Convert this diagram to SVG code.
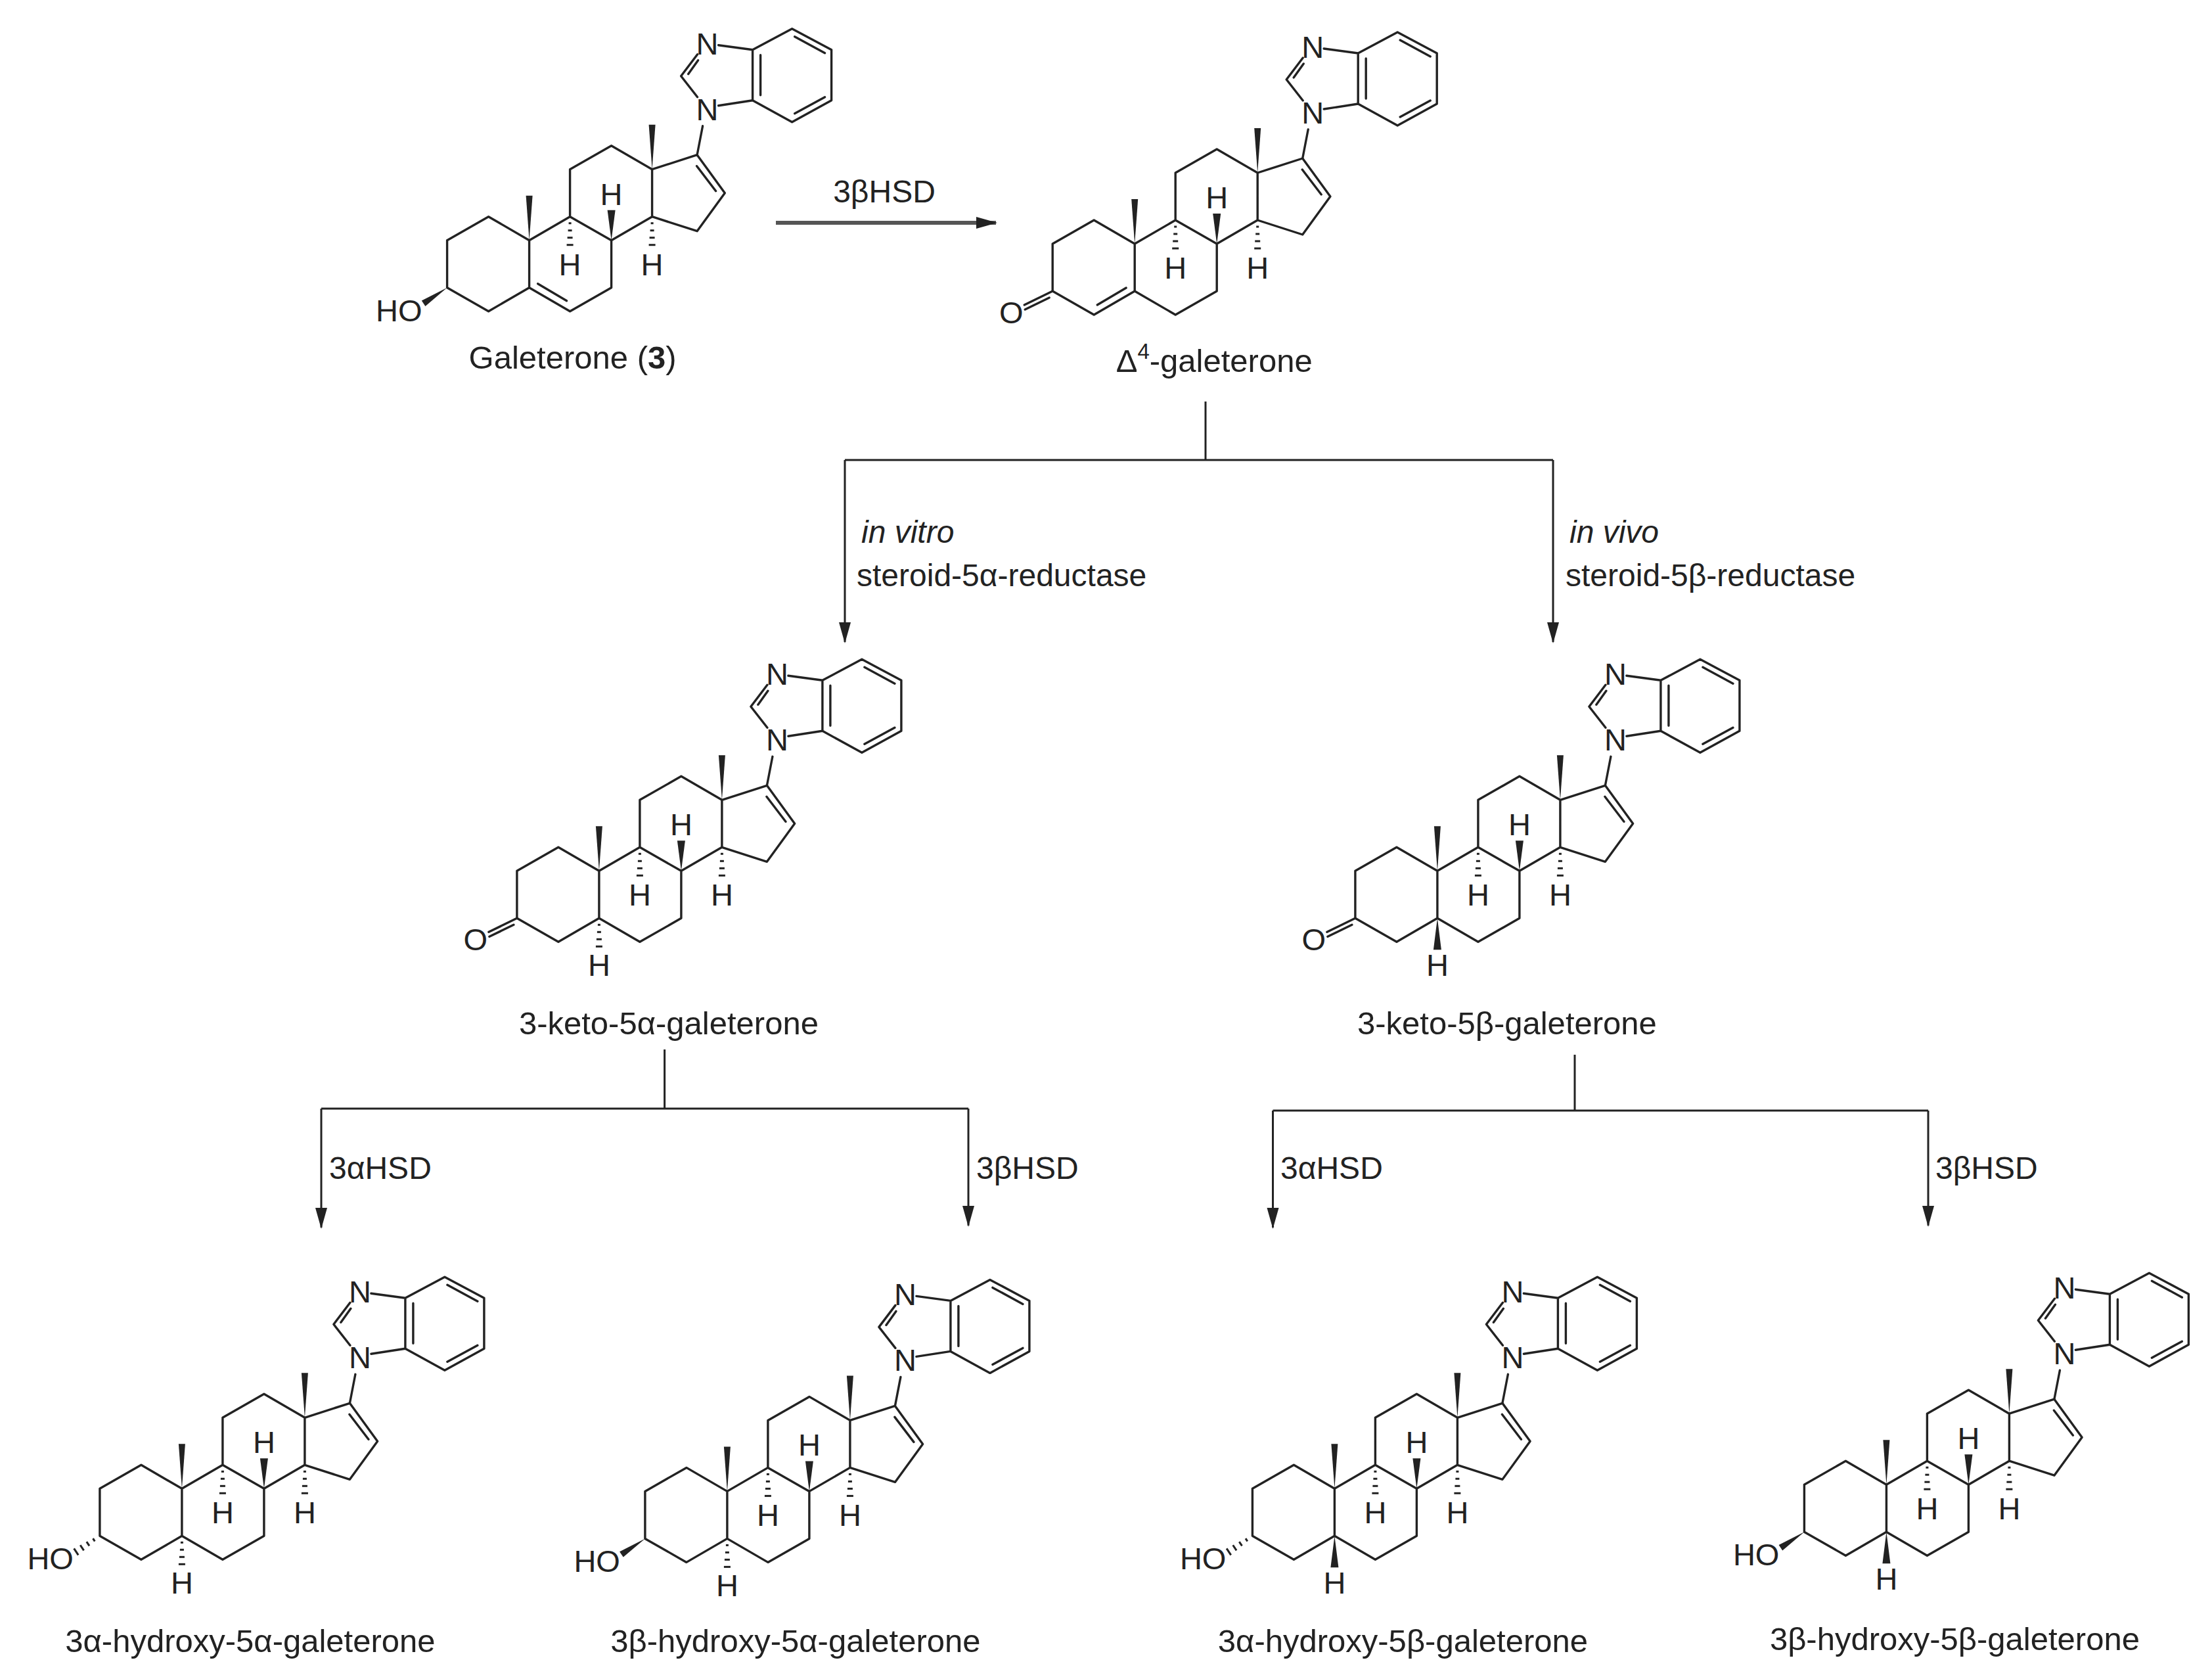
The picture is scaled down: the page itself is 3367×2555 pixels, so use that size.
<svg xmlns="http://www.w3.org/2000/svg" xmlns:xlink="http://www.w3.org/1999/xlink" width="3367" height="2555" viewBox="0 0 3367 2555">
<style>
.b{stroke:#222;stroke-width:3.4;fill:none;stroke-linecap:round;stroke-linejoin:round}
.f{fill:#222;stroke:none}
.h{stroke:#222;stroke-width:3;fill:none}
.at{font-family:"Liberation Sans",Arial,sans-serif;font-size:47px;fill:#222;text-anchor:middle}
.ho{font-family:"Liberation Sans",Arial,sans-serif;font-size:47px;fill:#222;text-anchor:end}
.nm{font-family:"Liberation Sans",Arial,sans-serif;font-size:49px;fill:#222;text-anchor:middle}
.lb{font-family:"Liberation Sans",Arial,sans-serif;font-size:48px;fill:#222}
.cn{stroke:#222;stroke-width:3;fill:none}
</style>
<defs>
<marker id="ah" markerUnits="userSpaceOnUse" markerWidth="32" markerHeight="20" refX="30" refY="10" orient="auto"><path d="M0,1 L32,10 L0,19 Z" fill="#222"/></marker>
<g id="hashDown"><line class="h" x1="-2" y1="8" x2="2" y2="8"/><line class="h" x1="-3" y1="19" x2="3" y2="19"/><line class="h" x1="-4" y1="30" x2="4" y2="30"/><line class="h" x1="-5" y1="41" x2="5" y2="41"/></g>
<g id="hashHOa"><line class="h" x1="-10.4" y1="3.8" x2="-7.6" y2="8.2"/><line class="h" x1="-20.1" y1="8.9" x2="-15.9" y2="15.1"/><line class="h" x1="-29.7" y1="13.9" x2="-24.3" y2="22.1"/><line class="h" x1="-39.3" y1="19" x2="-32.7" y2="29"/></g>
<g id="core">
<path class="b" d="M0,0 L-62,-36 L-125,0 L-125,72 L-62,108 L0,72 Z M0,72 L62,108 L125,72 L125,0 L62,-36 L0,0 M62,-36 L62,-108 L125,-144 L187,-108 L187,-36 L125,0 M187,-108 L255.5,-130 L297.7,-72 L255.5,-14 L187,-36 M255,-113 L284,-75"/>
<polygon class="f" points="0,0 -5,-68 5,-68"/>
<polygon class="f" points="187,-108 182,-176 192,-176"/>
<polygon class="f" points="125,0 119,-46 131,-46"/>
<text class="at" x="125" y="-54">H</text>
<use xlink:href="#hashDown" href="#hashDown" x="62" y="-34"/>
<text class="at" x="62" y="53">H</text>
<use xlink:href="#hashDown" href="#hashDown" x="187" y="-34"/>
<text class="at" x="187" y="53">H</text>
<path class="b" d="M255.5,-130 L264,-174 M256,-218 L231,-250 L256,-283 M288,-297 L340,-290 L340,-213 L288,-205 M340,-290 L400,-322 L460,-290 L460,-213 L400,-180 L340,-213 M242,-253 L257,-274 M352,-282 L352,-221 M404,-310 L450,-285 M450,-218 L404,-193"/>
<text class="at" x="271" y="-183">N</text>
<text class="at" x="271" y="-283">N</text>
</g>
<g id="keto"><path class="b" d="M-125,72 L-168,93 M-130,82 L-167,100"/><text class="at" x="-188" y="121">O</text></g>
<g id="hoB"><polygon class="f" points="-125,72 -158.2,100.2 -163.8,91.8"/><text class="ho" x="-163" y="123">HO</text></g>
<g id="hoA"><use xlink:href="#hashHOa" href="#hashHOa" x="-125" y="72"/><text class="ho" x="-165" y="123">HO</text></g>
<g id="h5a"><use xlink:href="#hashDown" href="#hashDown" x="0" y="74"/><text class="at" x="0" y="160">H</text></g>
<g id="h5b"><polygon class="f" points="0,72 -6,120 6,120"/><text class="at" x="0" y="160">H</text></g>
</defs>

<g id="galeterone" transform="translate(805.6,365.7)">
<use xlink:href="#core" href="#core"/>
<path class="b" d="M13,66 L57,92"/>
<use xlink:href="#hoB" href="#hoB"/>
<text class="nm" x="66" y="195">Galeterone (<tspan font-weight="bold">3</tspan>)</text>
</g>

<g id="delta4" transform="translate(1727.2,371)">
<use xlink:href="#core" href="#core"/>
<path class="b" d="M-57,93 L-13,67"/>
<use xlink:href="#keto" href="#keto"/>
<text class="nm" x="121" y="195">Δ<tspan font-size="33" dy="-20">4</tspan><tspan dy="20">-galeterone</tspan></text>
</g>

<g id="keto5a" transform="translate(911.9,1325.3)">
<use xlink:href="#core" href="#core"/>
<use xlink:href="#keto" href="#keto"/>
<use xlink:href="#h5a" href="#h5a"/>
<text class="nm" x="106" y="249">3-keto-5α-galeterone</text>
</g>

<g id="keto5b" transform="translate(2187.9,1325.3)">
<use xlink:href="#core" href="#core"/>
<use xlink:href="#keto" href="#keto"/>
<use xlink:href="#h5b" href="#h5b"/>
<text class="nm" x="106" y="249">3-keto-5β-galeterone</text>
</g>

<g id="hydroxy3a5a" transform="translate(276.9,2265.3)">
<use xlink:href="#core" href="#core"/>
<use xlink:href="#hoA" href="#hoA"/>
<use xlink:href="#h5a" href="#h5a"/>
<text class="nm" x="104" y="249">3α-hydroxy-5α-galeterone</text>
</g>

<g id="hydroxy3b5a" transform="translate(1106.9,2269.4)">
<use xlink:href="#core" href="#core"/>
<use xlink:href="#hoB" href="#hoB"/>
<use xlink:href="#h5a" href="#h5a"/>
<text class="nm" x="104" y="245">3β-hydroxy-5α-galeterone</text>
</g>

<g id="hydroxy3a5b" transform="translate(2031.4,2265.3)">
<use xlink:href="#core" href="#core"/>
<use xlink:href="#hoA" href="#hoA"/>
<use xlink:href="#h5b" href="#h5b"/>
<text class="nm" x="104" y="249">3α-hydroxy-5β-galeterone</text>
</g>

<g id="hydroxy3b5b" transform="translate(2871.4,2259.2)">
<use xlink:href="#core" href="#core"/>
<use xlink:href="#hoB" href="#hoB"/>
<use xlink:href="#h5b" href="#h5b"/>
<text class="nm" x="104" y="252">3β-hydroxy-5β-galeterone</text>
</g>

<g id="connectors">
<line x1="1181" y1="339" x2="1516" y2="339" stroke="#555" stroke-width="6" marker-end="url(#ah)"/>
<path class="cn" d="M1835,611 L1835,700 M1286,700 L2364,700"/>
<line class="cn" x1="1286" y1="700" x2="1286" y2="977" marker-end="url(#ah)"/>
<line class="cn" x1="2364" y1="700" x2="2364" y2="977" marker-end="url(#ah)"/>
<path class="cn" d="M1011.6,1597 L1011.6,1687 M489,1687 L1474,1687"/>
<line class="cn" x1="489" y1="1687" x2="489" y2="1868" marker-end="url(#ah)"/>
<line class="cn" x1="1474" y1="1687" x2="1474" y2="1865" marker-end="url(#ah)"/>
<path class="cn" d="M2397,1605 L2397,1690 M1937.5,1690 L2935,1690"/>
<line class="cn" x1="1937.5" y1="1690" x2="1937.5" y2="1868" marker-end="url(#ah)"/>
<line class="cn" x1="2935" y1="1690" x2="2935" y2="1865" marker-end="url(#ah)"/>
<text class="lb" x="1346" y="308" text-anchor="middle">3βHSD</text>
<text class="lb" x="1311" y="826" font-style="italic">in vitro</text>
<text class="lb" x="1304" y="892">steroid-5α-reductase</text>
<text class="lb" x="2389" y="826" font-style="italic">in vivo</text>
<text class="lb" x="2383" y="892">steroid-5β-reductase</text>
<text class="lb" x="501" y="1794">3αHSD</text>
<text class="lb" x="1486" y="1794">3βHSD</text>
<text class="lb" x="1949" y="1794">3αHSD</text>
<text class="lb" x="2946" y="1794">3βHSD</text>
</g>
</svg>
